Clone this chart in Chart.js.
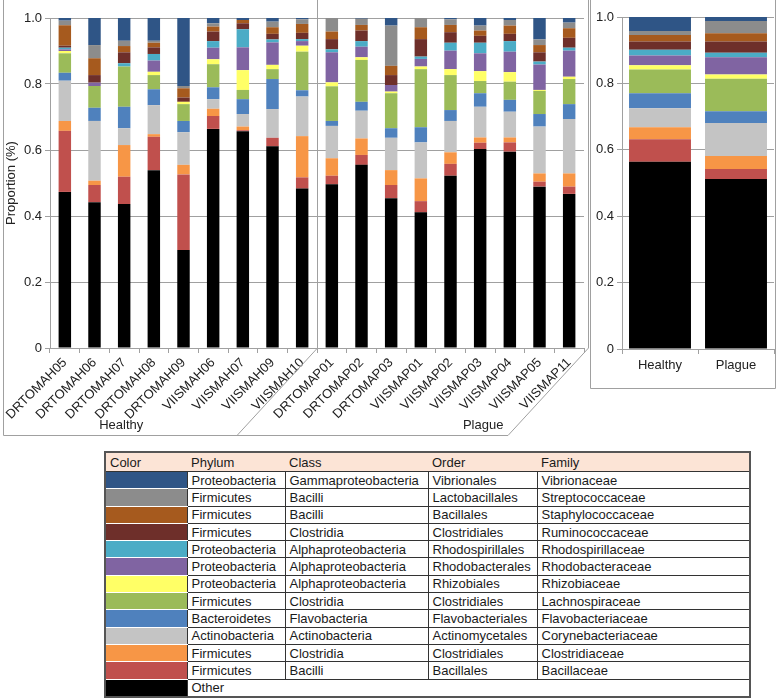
<!DOCTYPE html>
<html>
<head>
<meta charset="utf-8">
<script src="https://cdn.jsdelivr.net/npm/chart.js@4"></script>
<style>
  body { margin: 0; background: #fff; font-family: "Liberation Sans", Arial, sans-serif; }
  #wrap { position: relative; width: 777px; height: 700px; }
  #left { position: absolute; left: 0; top: 0; }
  #right { position: absolute; left: 590px; top: 0; }
  #legend { position: absolute; left: 104px; top: 451px; border-collapse: collapse;
            font: 13px "Liberation Sans", Arial, sans-serif; color: #1a1a1a; border: 2px solid #555; }
  #legend th { background: #fce4d6; text-align: left; font-weight: normal; padding: 0 4px;
               height: 18px; border-bottom: 1px solid #333; }
  #legend td { border: 1px solid #333; padding: 0 4px; height: 16.3px; white-space: nowrap; }
  #legend td.sw { border-top: 1px solid #fff; border-bottom: 1px solid #fff; border-left: none; }
</style>
</head>
<body>
<div id="wrap">
  <canvas id="left" width="590" height="437"></canvas>
  <canvas id="right" width="186" height="389"></canvas>
  <table id="legend"></table>
</div>
<script>
const sampleLabels = ['DRTOMAH05', 'DRTOMAH06', 'DRTOMAH07', 'DRTOMAH08', 'DRTOMAH09',
  'VIISMAH06', 'VIISMAH07', 'VIISMAH09', 'VIISMAH10',
  'DRTOMAP01', 'DRTOMAP02', 'DRTOMAP03', 'VIISMAP01', 'VIISMAP02', 'VIISMAP03',
  'VIISMAP04', 'VIISMAP05', 'VIISMAP11'];
const groupLabels = ['Healthy', 'Plague'];
// last sample of the first group, and where each group caption sits (category units)
const groupSplit = 8;
const groupCaptionAt = [1.9, 14.1];

// per sample proportions, bottom of the stack first
const other =              [.473, .442, .436, .539, .297, .664, .657, .611, .483, .496, .555, .454, .411, .522, .603, .595, .489, .467];
const bacillaceae =        [.185, .052, .083, .101, .229, .039, .003, .026, .034, .026, .030, .040, .034, .036, .019, .028, .015, .022];
const clostridiaceae =     [.030, .013, .096, .008, .029, .022, .011, 0,    .125, .053, .050, .045, .069, .035, .016, .015, .025, .040];
const corynebacteriaceae = [.122, .181, .051, .088, .099, .029, .038, .087, .120, .098, .084, .098, .109, .095, .093, .078, .142, .165];
const flavobacteriaceae =  [.024, .040, .065, .048, .034, .036, .045, .091, .019, .015, .027, .029, .046, .033, .041, .036, .038, .045];
const lachnospiraceae =    [.059, .066, .122, .043, .051, .070, .028, .030, .117, .105, .127, .106, .176, .106, .037, .055, .070, .076];
const rhizobiaceae =       [.007, 0,    0,    .010, .007, .015, .060, .013, .018, .012, .008, .005, .008, .018, .030, .029, .003, .007];
const rhodobacteraceae =   [.005, .010, 0,    .034, 0,    .035, .069, .068, .014, .091, .032, .020, .023, .056, .054, .062, .077, .079];
const rhodospirillaceae =  [.005, 0,    .010, .020, 0,    .020, .055, .009, .006, .009, .017, 0,    .007, .024, .032, .032, .009, .009];
const ruminococcaceae =    [.006, .023, .033, .020, .013, .029, .018, .017, .019, .031, .032, .030, .053, .032, .021, .022, .028, .030];
const staphylococcaceae =  [.062, .051, .019, .014, .028, .015, .010, .020, .027, .023, .017, .028, .036, .022, .016, .025, .022, .029];
const streptococcaceae =   [.014, .040, .016, .006, .007, .010, 0,    .017, .014, .041, .019, .122, .028, .017, .015, .017, .017, .017];
const vibrionaceae =       [.008, .082, .069, .069, .206, .016, .006, .011, .004, 0,    .002, .023, 0,    .004, .023, .006, .065, .014];

// pooled per group (Healthy, Plague)
const otherGroup =              [.564, .512];
const bacillaceaeGroup =        [.068, .030];
const clostridiaceaeGroup =     [.036, .039];
const corynebacteriaceaeGroup = [.057, .100];
const flavobacteriaceaeGroup =  [.045, .035];
const lachnospiraceaeGroup =    [.072, .098];
const rhizobiaceaeGroup =       [.013, .013];
const rhodobacteraceaeGroup =   [.029, .052];
const rhodospirillaceaeGroup =  [.017, .013];
const ruminococcaceaeGroup =    [.025, .034];
const staphylococcaceaeGroup =  [.020, .025];
const streptococcaceaeGroup =   [.012, .037];
const vibrionaceaeGroup =       [.042, .012];

// taxonomy, same order as the stacks (bottom first)
const families = ['Other', 'Bacillaceae', 'Clostridiaceae', 'Corynebacteriaceae', 'Flavobacteriaceae',
  'Lachnospiraceae', 'Rhizobiaceae', 'Rhodobacteraceae', 'Rhodospirillaceae', 'Ruminococcaceae',
  'Staphylococcaceae', 'Streptococcaceae', 'Vibrionaceae'];
const phyla = ['', 'Firmicutes', 'Firmicutes', 'Actinobacteria', 'Bacteroidetes', 'Firmicutes',
  'Proteobacteria', 'Proteobacteria', 'Proteobacteria', 'Firmicutes', 'Firmicutes', 'Firmicutes', 'Proteobacteria'];
const classes = ['', 'Bacilli', 'Clostridia', 'Actinobacteria', 'Flavobacteria', 'Clostridia',
  'Alphaproteobacteria', 'Alphaproteobacteria', 'Alphaproteobacteria', 'Clostridia', 'Bacilli', 'Bacilli', 'Gammaproteobacteria'];
const orders = ['', 'Bacillales', 'Clostridiales', 'Actinomycetales', 'Flavobacteriales', 'Clostridiales',
  'Rhizobiales', 'Rhodobacterales', 'Rhodospirillales', 'Clostridiales', 'Bacillales', 'Lactobacillales', 'Vibrionales'];
const colors = ['#000000', '#c0504d', '#f79646', '#c4c4c4', '#4f81bd', '#9bbb59', '#ffff66',
  '#8064a2', '#4bacc6', '#6e2f2a', '#a65a1e', '#8c8c8c', '#2f5586'];

const sampleSeries = [other, bacillaceae, clostridiaceae, corynebacteriaceae, flavobacteriaceae,
  lachnospiraceae, rhizobiaceae, rhodobacteraceae, rhodospirillaceae, ruminococcaceae,
  staphylococcaceae, streptococcaceae, vibrionaceae];
const groupSeries = [otherGroup, bacillaceaeGroup, clostridiaceaeGroup, corynebacteriaceaeGroup,
  flavobacteriaceaeGroup, lachnospiraceaeGroup, rhizobiaceaeGroup, rhodobacteraceaeGroup,
  rhodospirillaceaeGroup, ruminococcaceaeGroup, staphylococcaceaeGroup, streptococcaceaeGroup,
  vibrionaceaeGroup];

Chart.defaults.font.family = '"Liberation Sans", Arial, sans-serif';
Chart.defaults.font.size = 13;
Chart.defaults.color = '#222';

const lineGray = '#a0a0a0';

function yScale(width, withTitle) {
  return {
    stacked: true, min: 0, max: 1,
    ticks: { stepSize: 0.2, padding: 3 },
    grid: { color: lineGray, tickLength: 5 },
    border: { color: lineGray },
    title: { display: withTitle, text: 'Proportion (%)', padding: { top: 4, bottom: 2 } },
    afterFit: s => { s.width = width; }
  };
}

const groupFrame = {
  id: 'groupFrame',
  afterDraw(chart) {
    const { ctx, chartArea: area, scales: { x } } = chart;
    const base = 435.5;
    const run = (base - area.bottom) * 0.92;
    const sep = Math.round((x.getPixelForValue(groupSplit) + x.getPixelForValue(groupSplit + 1)) / 2) + 0.5;
    const edge = Math.round(area.right) + 4.5;
    ctx.save();
    ctx.strokeStyle = lineGray;
    ctx.lineWidth = 1;
    ctx.beginPath();
    ctx.moveTo(3.5, 0);
    ctx.lineTo(3.5, base);
    ctx.lineTo(edge - run, base);
    ctx.lineTo(edge, area.bottom);
    ctx.lineTo(edge, 0);
    ctx.moveTo(sep, 0);
    ctx.lineTo(sep, area.bottom);
    ctx.lineTo(sep - run, base);
    ctx.stroke();
    ctx.fillStyle = '#222';
    ctx.font = '13px "Liberation Sans", Arial, sans-serif';
    ctx.textAlign = 'center';
    ctx.textBaseline = 'middle';
    groupLabels.forEach((g, i) => {
      ctx.fillText(g, x.getPixelForValue(groupCaptionAt[i]), 425);
    });
    ctx.restore();
  }
};

const boxFrame = {
  id: 'boxFrame',
  afterDraw(chart) {
    const { ctx, width, height } = chart;
    ctx.save();
    ctx.strokeStyle = lineGray;
    ctx.beginPath();
    ctx.moveTo(0.5, 0);
    ctx.lineTo(0.5, height - 0.5);
    ctx.lineTo(width - 0.5, height - 0.5);
    ctx.lineTo(width - 0.5, 0);
    ctx.stroke();
    ctx.restore();
  }
};

new Chart(document.getElementById('left'), {
  type: 'bar',
  data: {
    labels: sampleLabels,
    datasets: sampleSeries.map((d, i) => ({
      label: families[i], data: d, backgroundColor: colors[i], borderWidth: 0,
      barPercentage: 0.42, categoryPercentage: 1
    }))
  },
  options: {
    responsive: false, animation: false,
    layout: { padding: { left: 0, right: 6, top: 18, bottom: 0 } },
    plugins: { legend: { display: false }, tooltip: { enabled: false } },
    scales: {
      x: {
        stacked: true,
        ticks: { minRotation: 45, maxRotation: 45, autoSkip: false, padding: 2 },
        grid: { drawOnChartArea: false, color: lineGray, tickLength: 5 },
        border: { color: lineGray },
        afterFit: s => { s.height = 89; }
      },
      y: yScale(50, true)
    }
  },
  plugins: [groupFrame]
});

new Chart(document.getElementById('right'), {
  type: 'bar',
  data: {
    labels: groupLabels,
    datasets: groupSeries.map((d, i) => ({
      label: families[i], data: d, backgroundColor: colors[i], borderWidth: 0,
      barPercentage: 0.815, categoryPercentage: 1
    }))
  },
  options: {
    responsive: false, animation: false,
    layout: { padding: { left: 0, right: 2, top: 17, bottom: 0 } },
    plugins: { legend: { display: false }, tooltip: { enabled: false } },
    scales: {
      x: {
        stacked: true,
        ticks: { padding: 4 },
        grid: { drawOnChartArea: false, color: lineGray, tickLength: 5 },
        border: { color: lineGray },
        afterFit: s => { s.height = 40; }
      },
      y: yScale(32, false)
    }
  },
  plugins: [boxFrame]
});

// colour key table, top row = top of the stack
const table = document.getElementById('legend');
const widths = [82, 99, 144, 110, 213];
let html = '<tr>' + ['Color', 'Phylum', 'Class', 'Order', 'Family']
  .map((h, i) => `<th style="width:${widths[i] - 9}px">${h}</th>`).join('') + '</tr>';
for (let i = families.length - 1; i >= 1; i--) {
  html += `<tr><td class="sw" style="background:${colors[i]}"></td><td>${phyla[i]}</td>` +
    `<td>${classes[i]}</td><td>${orders[i]}</td><td>${families[i]}</td></tr>`;
}
html += `<tr><td class="sw" style="background:${colors[0]}"></td><td colspan="4">${families[0]}</td></tr>`;
table.innerHTML = html;
</script>
</body>
</html>
